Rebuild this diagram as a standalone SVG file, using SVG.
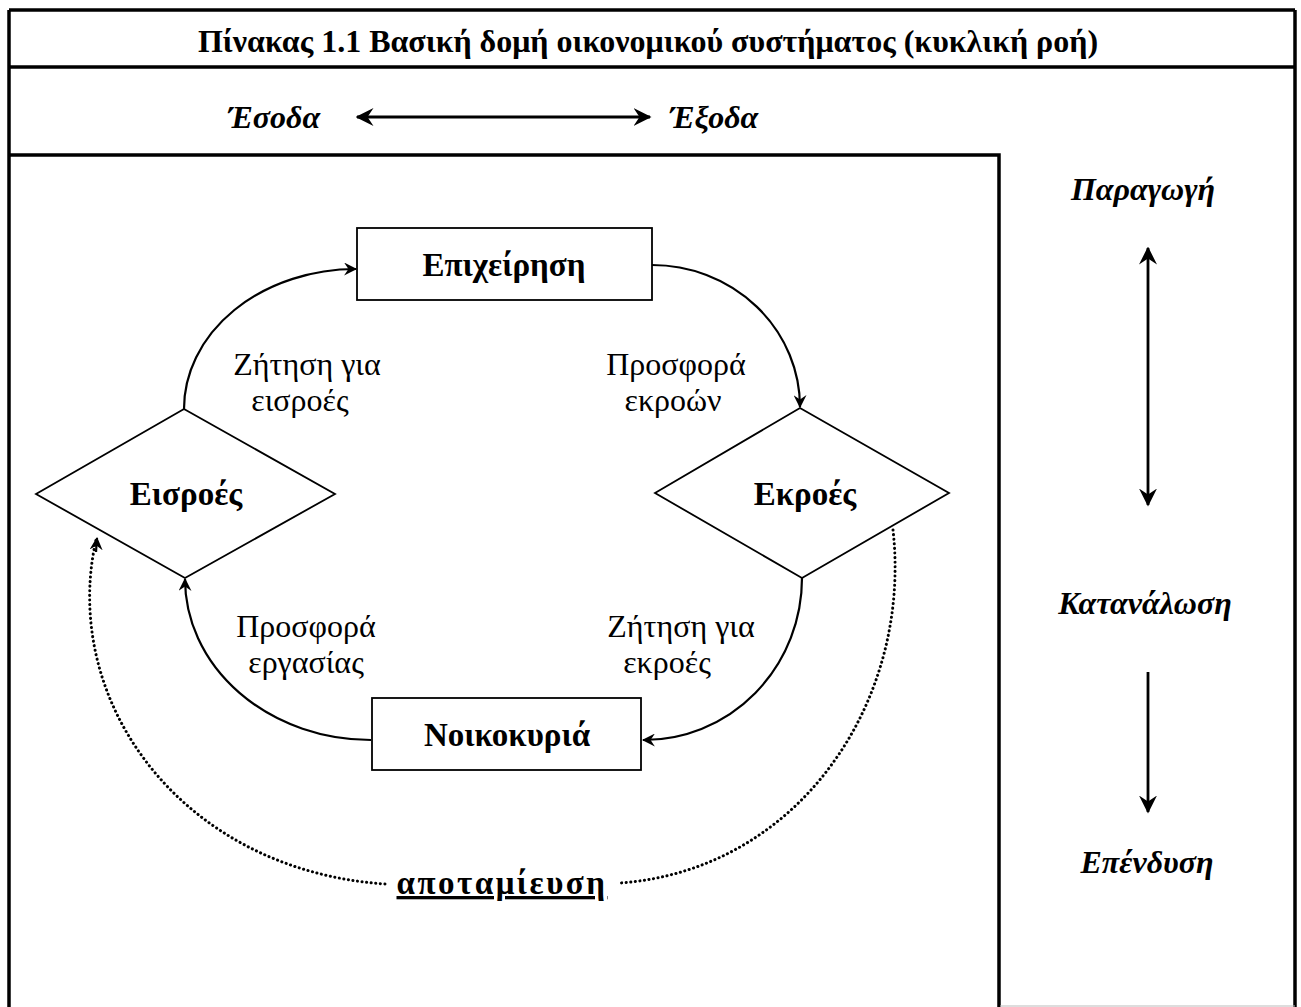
<svg xmlns="http://www.w3.org/2000/svg" width="1301" height="1007" viewBox="0 0 1301 1007">
<style>
text{font-family:"Liberation Serif","DejaVu Serif",serif;fill:#000}
.title{font-size:32px;font-weight:bold;text-anchor:middle}
.node{font-size:33px;font-weight:bold;text-anchor:middle}
.lbl{font-size:32px;text-anchor:middle}
.side{font-size:32px;font-weight:bold;font-style:italic;text-anchor:middle}
.io{font-size:32px;font-weight:bold;font-style:italic;text-anchor:middle}
.frame{fill:none;stroke:#000;stroke-width:3.5}
.shape{fill:#fff;stroke:#000;stroke-width:1.8}
.flow{fill:none;stroke:#000;stroke-width:2.2}
.dot{fill:none;stroke:#000;stroke-width:3;stroke-dasharray:0.1 4.5;stroke-linecap:round}
.bar{fill:none;stroke:#000;stroke-width:2.8}
</style>
<defs>
<marker id="ah" viewBox="0 0 12 12" refX="11" refY="6" markerWidth="13" markerHeight="13" markerUnits="userSpaceOnUse" orient="auto-start-reverse">
<path d="M0,0 L12,6 L0,12 L4,6 z" fill="#000"/>
</marker>
<marker id="ahb" viewBox="0 0 12 12" refX="11" refY="6" markerWidth="18" markerHeight="18" markerUnits="userSpaceOnUse" orient="auto-start-reverse">
<path d="M0,0 L12,6 L0,12 L4,6 z" fill="#000"/>
</marker>
</defs>
<rect width="1301" height="1007" fill="#fff"/>
<g id="frame">
<line class="frame" x1="9" y1="10" x2="1295" y2="10"/>
<line class="frame" x1="9" y1="10" x2="9" y2="1007"/>
<line class="frame" x1="1295" y1="10" x2="1295" y2="1007"/>
<line class="frame" x1="9" y1="67" x2="1295" y2="67"/>
<polyline class="frame" points="9,155 999,155 999,1007"/>
<line x1="1000" y1="1006" x2="1295" y2="1006" stroke="#bbb" stroke-width="1"/>
<text class="title" x="648" y="52">Πίνακας 1.1  Βασική δομή οικονομικού συστήματος (κυκλική ροή)</text>
</g>
<g id="io">
<text class="io" x="274" y="128">Έσοδα</text>
<text class="io" x="714" y="128">Έξοδα</text>
</g>
<g id="side">
<text class="side" x="1143" y="200">Παραγωγή</text>
<text class="side" x="1145" y="614">Κατανάλωση</text>
<text class="side" x="1147" y="873">Επένδυση</text>
</g>
<g id="epixeirisi">
<rect class="shape" x="357" y="228" width="295" height="72"/>
<text class="node" x="504" y="276">Επιχείρηση</text>
</g>
<g id="eisroes">
<polygon class="shape" points="36,494 184,409 335,494 185,578"/>
<text class="node" x="186" y="505">Εισροές</text>
</g>
<g id="ekroes">
<polygon class="shape" points="655,493 800,408 949,493 802,578"/>
<text class="node" x="805" y="505">Εκροές</text>
</g>
<g id="noikokyria">
<rect class="shape" x="372" y="698" width="269" height="72"/>
<text class="node" x="507" y="746">Νοικοκυριά</text>
</g>
<g id="connectors">
<path class="bar" d="M357,117 H650" marker-start="url(#ahb)" marker-end="url(#ahb)"/>
<path class="bar" d="M1148,248 V505" marker-start="url(#ahb)" marker-end="url(#ahb)"/>
<path class="bar" d="M1148,672 V812" marker-end="url(#ahb)"/>
<path class="flow" d="M184,409 A172,140 0 0 1 356,269" marker-end="url(#ah)"/>
<path class="flow" d="M652,265 A148,142 0 0 1 800,407" marker-end="url(#ah)"/>
<path class="flow" d="M802,578 A158,162 0 0 1 643,740" marker-end="url(#ah)"/>
<path class="flow" d="M371,740 A186,161 0 0 1 185,579" marker-end="url(#ah)"/>
<path class="dot" d="M893,530 C912,700 800,870 620,883"/>
<path class="dot" d="M385,884 C180,870 60,700 96,540"/>
<path class="flow" d="M96,552 L97,538" stroke-width="0" marker-end="url(#ah)"/>
</g>
<g id="labels">
<text class="lbl" x="307" y="375">Ζήτηση για</text>
<text class="lbl" x="300" y="411">εισροές</text>
<text class="lbl" x="676" y="375">Προσφορά</text>
<text class="lbl" x="673" y="411">εκροών</text>
<text class="lbl" x="306" y="637">Προσφορά</text>
<text class="lbl" x="306" y="673">εργασίας</text>
<text class="lbl" x="681" y="637">Ζήτηση για</text>
<text class="lbl" x="667" y="673">εκροές</text>
<text class="node" x="502" y="894" text-decoration="underline" letter-spacing="2.5">αποταμίευση</text>
</g>
</svg>
